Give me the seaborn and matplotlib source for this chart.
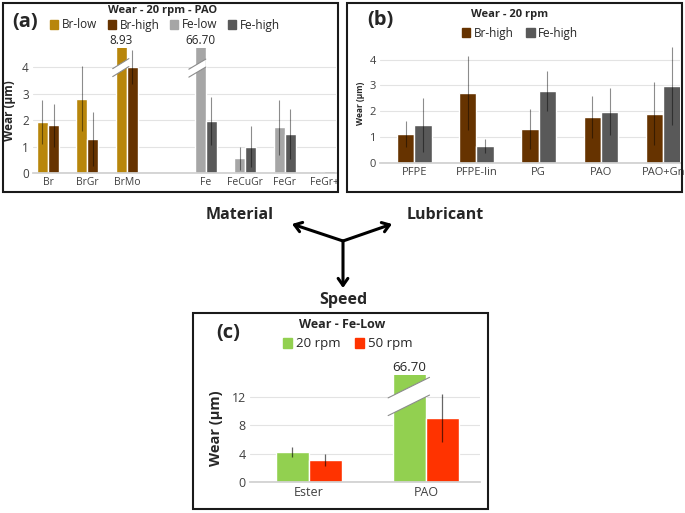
import pandas as pd
import matplotlib.pyplot as plt
import seaborn as sns
from matplotlib.patches import Patch, Polygon, Rectangle, FancyArrowPatch

# (a) material
mat_order = ['Br', 'BrGr', 'BrMo', '', 'Fe', 'FeCuGr', 'FeGr', 'FeGr+']
br_mats = ['Br', 'BrGr', 'BrMo']
br_low = [1.92, 2.80, 8.93]
br_low_err = [0.83, 1.23, 0.0]
br_high = [1.80, 1.27, 4.00]
br_high_err = [0.80, 1.02, 0.65]
fe_mats = ['Fe', 'FeCuGr', 'FeGr', 'FeGr+']
fe_low = [66.70, 0.55, 1.72, 0.0]
fe_low_err = [0.0, 0.42, 1.03, 0.0]
fe_high = [1.96, 1.00, 1.47, 0.06]
fe_high_err = [0.90, 0.77, 0.93, 0.0]

# (b) lubricant
lubes = ['PFPE', 'PFPE-lin', 'PG', 'PAO', 'PAO+Gn']
lube_br_high = [1.12, 2.72, 1.32, 1.78, 1.91]
lube_br_high_err = [0.50, 1.43, 0.77, 0.80, 1.23]
lube_fe_high = [1.46, 0.66, 2.79, 1.99, 2.99]
lube_fe_high_err = [1.04, 0.27, 0.77, 0.92, 1.51]

# (c) speed
speed_lubes = ['Ester', 'PAO']
rpm20 = [4.24, 66.70]
rpm20_err = [0.66, 0.0]
rpm50 = [3.10, 9.04]
rpm50_err = [0.87, 3.43]

c_brlow, c_brhigh = '#B8860B', '#663300'
c_felow, c_fehigh = '#A6A6A6', '#595959'
c_20, c_50 = '#92D050', '#FF3300'

sns.set_theme(style='white')
plt.rcParams['font.family'] = ['Open Sans', 'DejaVu Sans']

W, H = 685, 513
fig = plt.figure(figsize=(W / 100, H / 100), dpi=100)


def fx(x):
    return x / W


def fy(y):
    return 1 - y / H


def box(l, t, r, b):
    return [l / W, 1 - b / H, (r - l) / W, (b - t) / H]


def style_axis(ax, ylim, ticks, tsize, xsize):
    ax.set_ylim(*ylim)
    ax.set_yticks(ticks)
    ax.yaxis.grid(True, color='#E3E3E3', lw=0.8)
    ax.set_axisbelow(True)
    for s in ['top', 'left', 'right']:
        ax.spines[s].set_visible(False)
    ax.spines['bottom'].set_color('#D0D0D0')
    ax.tick_params(length=0, colors='#404040', pad=3)
    ax.tick_params(axis='y', labelsize=tsize)
    ax.tick_params(axis='x', labelsize=xsize)
    ax.set_xlabel('')


def add_errs(ax, containers, errs, color, alpha, lw):
    for cont, ee in zip(containers, errs):
        for bar, e in zip(cont, ee):
            if e > 0:
                ax.errorbar(bar.get_x() + bar.get_width() / 2, bar.get_height(), yerr=e,
                            fmt='none', ecolor=color, alpha=alpha, elinewidth=lw, capsize=0)


def draw_break(ax, bar, yc, rise, gap, ext_l, ext_r):
    x0 = bar.get_x() - ext_l
    x1 = bar.get_x() + bar.get_width() + ext_r
    lo = [(x0, yc - rise / 2 - gap / 2), (x1, yc + rise / 2 - gap / 2)]
    up = [(x0, yc - rise / 2 + gap / 2), (x1, yc + rise / 2 + gap / 2)]
    ax.add_patch(Polygon([lo[0], lo[1], up[1], up[0]], fc='white', ec='none', zorder=5))
    for seg in (lo, up):
        ax.plot([seg[0][0], seg[1][0]], [seg[0][1], seg[1][1]], color='#8C8C8C', lw=0.8, zorder=6)


def top_label(ax, bar, val, size):
    ax.annotate(f'{val:.2f}', (bar.get_x() + bar.get_width() / 2, ax.get_ylim()[1]),
                xytext=(0, 1), textcoords='offset points', ha='center', va='bottom',
                fontsize=size, color='#262626', annotation_clip=False)


# ---- panel (a)
axA = fig.add_axes(box(33, 48, 336, 173))
df_br = pd.DataFrame({'material': br_mats * 2,
                      'series': ['Br-low'] * 3 + ['Br-high'] * 3,
                      'wear': br_low + br_high})
df_fe = pd.DataFrame({'material': fe_mats * 2,
                      'series': ['Fe-low'] * 4 + ['Fe-high'] * 4,
                      'wear': fe_low + fe_high})
sns.barplot(df_br, x='material', y='wear', hue='series', order=mat_order,
            hue_order=['Br-low', 'Br-high'], palette=[c_brlow, c_brhigh],
            width=0.56, errorbar=None, saturation=1, legend=False, ax=axA)
sns.barplot(df_fe, x='material', y='wear', hue='series', order=mat_order,
            hue_order=['Fe-low', 'Fe-high'], palette=[c_felow, c_fehigh],
            width=0.56, errorbar=None, saturation=1, legend=False, ax=axA)
style_axis(axA, (0, 4.72), [0, 1, 2, 3, 4], 8.5, 7.5)
axA.set_xlim(-0.38, 7.3)
axA.set_ylabel('Wear (μm)', fontsize=8.5, fontweight='bold', labelpad=4)
add_errs(axA, axA.containers, [br_low_err, br_high_err, fe_low_err, fe_high_err], 'black', 0.45, 0.8)
bar_brmo = axA.containers[0][2]
bar_fe = axA.containers[2][0]
draw_break(axA, bar_brmo, 3.98, 0.38, 0.3, 0.08, 0.05)
draw_break(axA, bar_fe, 3.96, 0.38, 0.3, 0.15, 0.0)
top_label(axA, bar_brmo, br_low[2], 8.5)
top_label(axA, bar_fe, fe_low[0], 8.5)

fig.text(fx(163), fy(10), 'Wear - 20 rpm - PAO', ha='center', va='center', fontsize=8, fontweight='bold')
fig.legend([Patch(color=c) for c in [c_brlow, c_brhigh, c_felow, c_fehigh]],
           ['Br-low', 'Br-high', 'Fe-low', 'Fe-high'], loc='center', bbox_to_anchor=(fx(165), fy(25)),
           ncol=4, frameon=False, fontsize=8.5, handlelength=0.7, handleheight=0.7,
           handletextpad=0.3, columnspacing=0.9, borderpad=0)
fig.text(fx(25), fy(22), '(a)', ha='center', va='center', fontsize=14.5, fontweight='bold')

# ---- panel (b)
axB = fig.add_axes(box(380, 44, 680, 163))
df_b = pd.DataFrame({'lube': lubes * 2,
                     'series': ['Br-high'] * 5 + ['Fe-high'] * 5,
                     'wear': lube_br_high + lube_fe_high})
sns.barplot(df_b, x='lube', y='wear', hue='series', order=lubes,
            hue_order=['Br-high', 'Fe-high'], palette=[c_brhigh, c_fehigh],
            width=0.56, errorbar=None, saturation=1, legend=False, ax=axB)
style_axis(axB, (0, 4.6), [0, 1, 2, 3, 4], 8, 8)
axB.set_xlim(-0.55, 4.27)
axB.set_ylabel('Wear (μm)', fontsize=6, fontweight='bold', labelpad=3)
add_errs(axB, axB.containers, [lube_br_high_err, lube_fe_high_err], 'black', 0.45, 0.8)
fig.text(fx(510), fy(15), 'Wear - 20 rpm', ha='center', va='center', fontsize=8, fontweight='bold')
fig.legend([Patch(color=c) for c in [c_brhigh, c_fehigh]], ['Br-high', 'Fe-high'],
           loc='center', bbox_to_anchor=(fx(520), fy(33)), ncol=2, frameon=False, fontsize=8.5,
           handlelength=0.7, handleheight=0.7, handletextpad=0.3, columnspacing=1.1, borderpad=0)
fig.text(fx(380), fy(20), '(b)', ha='center', va='center', fontsize=14.5, fontweight='bold')

# ---- panel (c)
axC = fig.add_axes(box(250, 375, 480, 482))
df_c = pd.DataFrame({'lube': speed_lubes * 2,
                     'speed': ['20 rpm'] * 2 + ['50 rpm'] * 2,
                     'wear': rpm20 + rpm50})
sns.barplot(df_c, x='lube', y='wear', hue='speed', order=speed_lubes,
            hue_order=['20 rpm', '50 rpm'], palette=[c_20, c_50],
            width=0.56, errorbar=None, saturation=1, legend=False, ax=axC)
style_axis(axC, (0, 15.1), [0, 4, 8, 12], 9, 9)
axC.set_xlim(-0.5, 1.46)
axC.set_ylabel('Wear (μm)', fontsize=10.5, fontweight='bold', labelpad=6)
add_errs(axC, axC.containers, [rpm20_err, rpm50_err], 'black', 0.6, 0.9)
bar_pao = axC.containers[0][1]
draw_break(axC, bar_pao, 12.07, 2.9, 2.5, 0.043, 0.03)
top_label(axC, bar_pao, rpm20[1], 9.5)
fig.text(fx(342), fy(325), 'Wear - Fe-Low', ha='center', va='center', fontsize=9, fontweight='bold')
fig.legend([Patch(color=c) for c in [c_20, c_50]], ['20 rpm', '50 rpm'],
           loc='center', bbox_to_anchor=(fx(348), fy(344)), ncol=2, frameon=False, fontsize=9.5,
           handlelength=0.7, handleheight=0.7, handletextpad=0.3, columnspacing=1.1, borderpad=0)
fig.text(fx(228), fy(333), '(c)', ha='center', va='center', fontsize=14.5, fontweight='bold')

# ---- frames
for l, t, r, b in [(3, 3, 338, 192), (347, 3, 682, 192), (193, 313, 488, 509)]:
    fig.add_artist(Rectangle((fx(l), fy(b)), (r - l) / W, (b - t) / H, transform=fig.transFigure,
                             fill=False, ec='#1A1A1A', lw=1.5))

# ---- arrows
cx, cy = 343, 241
for tx, ty in [(292, 224), (392, 224), (343, 288)]:
    fig.add_artist(FancyArrowPatch((fx(cx), fy(cy)), (fx(tx), fy(ty)), transform=fig.transFigure,
                                   arrowstyle='->,head_length=5,head_width=3.5', lw=2.2,
                                   color='black', shrinkA=0, shrinkB=0))
fig.text(fx(240), fy(215), 'Material', ha='center', va='center', fontsize=11.5, fontweight='bold')
fig.text(fx(445), fy(215), 'Lubricant', ha='center', va='center', fontsize=11.5, fontweight='bold')
fig.text(fx(343), fy(300), 'Speed', ha='center', va='center', fontsize=11.5, fontweight='bold')

fig.savefig('out.png', dpi=100)
